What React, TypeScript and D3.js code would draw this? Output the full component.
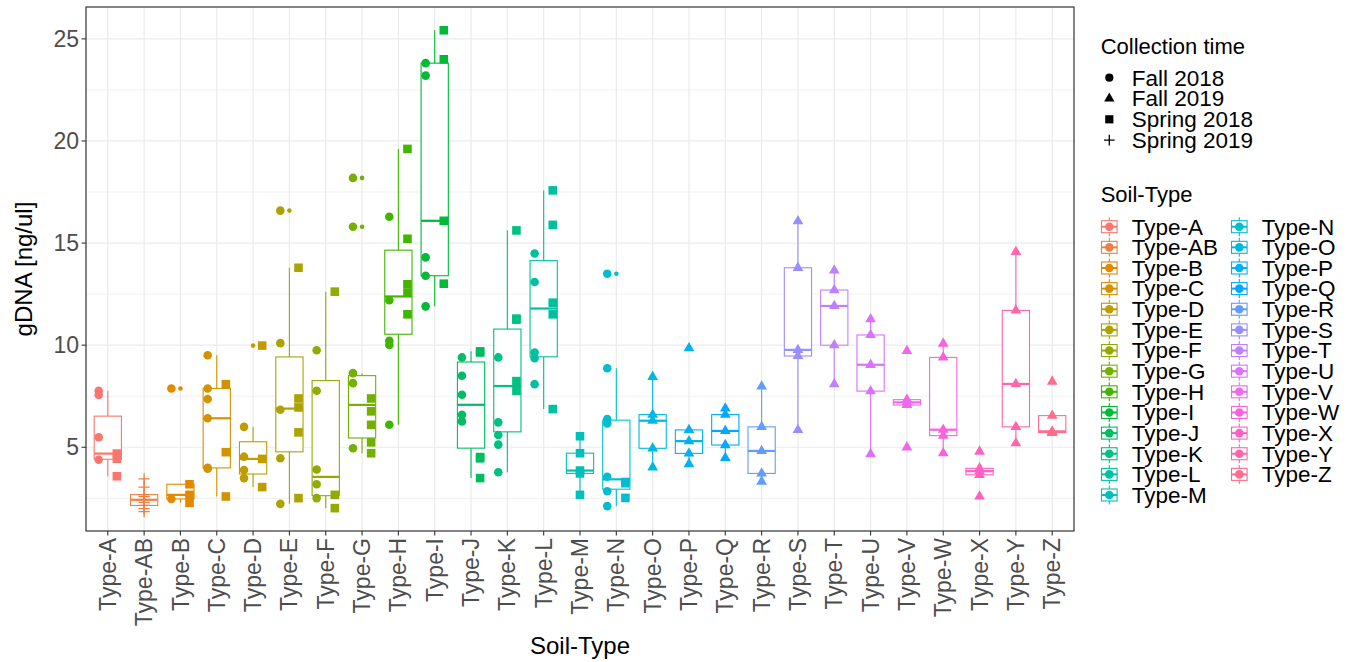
import React from "react";
import * as d3 from "d3";

// soil types in plotting order
const categories = [
  "Type-A", "Type-AB", "Type-B", "Type-C", "Type-D", "Type-E", "Type-F", "Type-G", "Type-H",
  "Type-I", "Type-J", "Type-K", "Type-L", "Type-M", "Type-N", "Type-O", "Type-P", "Type-Q",
  "Type-R", "Type-S", "Type-T", "Type-U", "Type-V", "Type-W", "Type-X", "Type-Y", "Type-Z",
];

// gDNA values per collection time, one list per soil type (same order as categories)
const fall2018: number[][] = [
  [7.77, 7.56, 5.49, 4.39], [], [7.88, 2.47], [9.51, 7.88, 7.36, 6.42, 3.99, 3.95],
  [6.0, 4.54, 3.89, 3.49], [16.59, 10.1, 6.84, 4.46, 2.23], [9.75, 7.77, 3.91, 3.19, 2.51],
  [18.19, 15.8, 8.63, 8.14, 4.95], [16.29, 12.2, 10.21, 10.01, 6.1], [23.81, 23.2, 14.3, 13.4, 11.9],
  [9.4, 8.5, 7.57, 6.59, 6.27], [9.4, 6.22, 5.6, 5.13, 3.78], [14.49, 13.09, 9.64, 9.36, 8.09],
  [], [13.5, 8.87, 6.38, 6.17, 3.56, 2.85, 2.12], [], [], [], [], [], [], [], [], [], [], [], [],
];
const fall2019: number[][] = [
  [], [], [], [], [], [], [], [], [], [], [], [], [], [], [],
  [8.45, 6.6, 6.3, 4.95, 4.02], [9.85, 5.85, 5.3, 4.7, 4.18], [6.9, 6.6, 5.8, 5.11, 4.48],
  [7.98, 6.0, 4.82, 3.72, 3.32], [16.07, 13.79, 9.77, 9.47, 5.85], [13.66, 12.7, 11.92, 10.0, 8.09],
  [11.27, 10.5, 9.04, 7.75, 4.67], [9.72, 7.33, 7.2, 7.07, 5.0], [10.08, 9.4, 5.86, 5.57, 4.71],
  [4.79, 3.97, 3.83, 3.65, 2.59], [14.57, 11.7, 8.1, 6.0, 5.2], [8.22, 6.55, 5.78, 5.72, 5.7],
];
const spring2018: number[][] = [
  [4.69, 4.44, 3.58], [], [3.19, 2.67, 2.28], [8.09, 4.76, 2.59], [9.98, 4.43, 3.05],
  [13.79, 7.39, 6.95, 5.73, 2.51], [12.62, 2.67, 2.02], [7.39, 6.76, 6.1, 5.24, 4.71],
  [19.61, 15.21, 12.98, 12.57, 11.51], [25.42, 24.0, 16.09, 13.01], [9.7, 9.64, 4.52, 4.46, 3.49],
  [15.62, 11.3, 11.25, 8.24, 7.76], [17.58, 15.89, 12.08, 11.51, 6.87], [5.54, 4.71, 3.86, 3.72, 2.67],
  [3.3, 3.24, 2.52], [], [], [], [], [], [], [], [], [], [], [], [],
];
const spring2019: number[][] = [
  [], [3.45, 3.05, 2.68, 2.58, 2.43, 2.3, 2.15, 2.0, 1.85], [], [], [], [], [], [], [], [], [], [], [],
  [], [], [], [], [], [], [], [], [], [], [], [], [], [],
];

const timeLabels = ["Fall 2018", "Fall 2019", "Spring 2018", "Spring 2019"];
const yTicks = [5, 10, 15, 20, 25];
const yMinor = [2.5, 7.5, 12.5, 17.5, 22.5];

const W = 1356, H = 662;
const margin = { top: 7, right: 282, bottom: 130, left: 86 };
const FONT = "'Liberation Sans', Arial, Helvetica, sans-serif";

// R's hcl() (polar LUV) -> hex, as used by ggplot's hue palette
function hcl(h: number, c: number, l: number) {
  const WX = 95.047, WY = 100.0, WZ = 108.883;
  const hr = (h * Math.PI) / 180;
  const U = c * Math.cos(hr), V = c * Math.sin(hr);
  const Y = WY * (l > 7.999592 ? Math.pow((l + 16) / 116, 3) : l / 903.3);
  const den = WX + 15 * WY + 3 * WZ;
  const u = U / (13 * l) + (4 * WX) / den;
  const v = V / (13 * l) + (9 * WY) / den;
  const X = (9 * Y * u) / (4 * v);
  const Z = -X / 3 - 5 * Y + (3 * Y) / v;
  const g = (x: number) => (x > 0.00304 ? 1.055 * Math.pow(x, 1 / 2.4) - 0.055 : 12.92 * x);
  const cl = (x: number) => Math.round(255 * Math.max(0, Math.min(1, x)));
  const r = g((3.240479 * X - 1.53715 * Y - 0.498535 * Z) / WY);
  const gg = g((-0.969256 * X + 1.875992 * Y + 0.041556 * Z) / WY);
  const b = g((0.055648 * X - 0.204043 * Y + 1.057311 * Z) / WY);
  return d3.rgb(cl(r), cl(gg), cl(b)).formatHex();
}

const colors = categories.map((_, i) => hcl(15 + (i * 360) / categories.length, 100, 65));

function boxStats(vals: number[]) {
  const s = vals.slice().sort(d3.ascending);
  const q1 = d3.quantileSorted(s, 0.25)!, med = d3.quantileSorted(s, 0.5)!, q3 = d3.quantileSorted(s, 0.75)!;
  const iqr = q3 - q1;
  const lo = q1 - 1.5 * iqr, hi = q3 + 1.5 * iqr;
  const inside = s.filter((v) => v >= lo && v <= hi);
  return { q1, med, q3, wlo: d3.min(inside)!, whi: d3.max(inside)!, out: s.filter((v) => v < lo || v > hi) };
}

function Marker({ shape, x, y, fill, k = 1 }: { shape: number; x: number; y: number; fill: string; k?: number }) {
  if (shape === 0) return <circle cx={x} cy={y} r={4.3 * k} fill={fill} />;
  if (shape === 1) {
    const R = 4.0 * k;
    return <path d={`M${x},${y - 1.555 * R}L${x + 1.347 * R},${y + 0.778 * R}L${x - 1.347 * R},${y + 0.778 * R}Z`} fill={fill} />;
  }
  if (shape === 2) return <rect x={x - 4.3 * k} y={y - 4.3 * k} width={8.6 * k} height={8.6 * k} fill={fill} />;
  const a = 5.6 * k;
  return <path d={`M${x - a},${y}H${x + a}M${x},${y - a}V${y + a}`} stroke={fill} strokeWidth={1.3} fill="none" />;
}

export default function App() {
  const x = d3.scalePoint<string>().domain(categories).range([margin.left, W - margin.right]).padding(0.6);
  const y = d3.scaleLinear().domain([0.9, 26.56]).range([H - margin.bottom - 1, margin.top]);
  const step = x.step();
  const boxW = step * 0.75;
  const pTop = margin.top, pBot = H - margin.bottom - 1, pL = margin.left, pR = W - margin.right;

  const series = [fall2018, fall2019, spring2018, spring2019];

  const groups = categories.map((cat, i) => {
    const present = series.map((s, k) => ({ k, vals: s[i] })).filter((d) => d.vals.length > 0);
    const all = present.flatMap((d) => d.vals);
    const stats = boxStats(all);
    const cx = x(cat)!;
    const pts = present.flatMap((d, j) => {
      const off = present.length > 1 ? (j === 0 ? -0.25 : 0.25) * step : 0;
      return d.vals.map((v) => ({ x: cx + off, y: y(v), shape: d.k }));
    });
    return { cat, cx, stats, pts, color: colors[i] };
  });

  const leg1X = 1100.7;
  const soilRows = 14;

  return (
    <svg width={W} height={H} style={{ position: "absolute", left: 0, top: 0, background: "#fff" }} fontFamily={FONT}>
      <rect x={0} y={0} width={W} height={H} fill="#fff" />
      {/* grid */}
      {yMinor.map((t) => (
        <line key={"m" + t} x1={pL} x2={pR} y1={y(t)} y2={y(t)} stroke="#EBEBEB" strokeWidth={0.7} />
      ))}
      {yTicks.map((t) => (
        <line key={"g" + t} x1={pL} x2={pR} y1={y(t)} y2={y(t)} stroke="#EBEBEB" strokeWidth={1.2} />
      ))}
      {categories.map((c) => (
        <line key={"v" + c} x1={x(c)} x2={x(c)} y1={pTop} y2={pBot} stroke="#EBEBEB" strokeWidth={1.2} />
      ))}

      {/* boxplots */}
      {groups.map((g) => {
        const s = g.stats;
        return (
          <g key={"b" + g.cat} stroke={g.color} fill="none">
            <line x1={g.cx} x2={g.cx} y1={y(s.whi)} y2={y(s.q3)} strokeWidth={1.1} />
            <line x1={g.cx} x2={g.cx} y1={y(s.q1)} y2={y(s.wlo)} strokeWidth={1.1} />
            <rect x={g.cx - boxW / 2} y={y(s.q3)} width={boxW} height={y(s.q1) - y(s.q3)} fill="#fff" strokeWidth={1.1} />
            <line x1={g.cx - boxW / 2} x2={g.cx + boxW / 2} y1={y(s.med)} y2={y(s.med)} strokeWidth={2.2} />
            {s.out.map((v, j) => (
              <circle key={j} cx={g.cx} cy={y(v)} r={2.3} fill={g.color} stroke="none" />
            ))}
          </g>
        );
      })}

      {/* points */}
      {groups.map((g) => (
        <g key={"p" + g.cat}>
          {g.pts.map((p, j) => (
            <Marker key={j} shape={p.shape} x={p.x} y={p.y} fill={g.color} />
          ))}
        </g>
      ))}

      <rect x={pL} y={pTop} width={pR - pL} height={pBot - pTop} fill="none" stroke="#333" strokeWidth={1.2} />

      {/* y axis */}
      {yTicks.map((t) => (
        <g key={"yt" + t}>
          <line x1={pL - 4.4} x2={pL} y1={y(t)} y2={y(t)} stroke="#333" strokeWidth={1.1} />
          <text x={pL - 7} y={y(t)} dy="0.35em" textAnchor="end" fontSize={23} fill="#4D4D4D">
            {t}
          </text>
        </g>
      ))}
      <text transform={`translate(24,${(pTop + pBot) / 2}) rotate(-90)`} textAnchor="middle" dy="0.35em" fontSize={24} fill="#000">
        gDNA [ng/ul]
      </text>

      {/* x axis */}
      {categories.map((c) => (
        <g key={"xt" + c}>
          <line x1={x(c)} x2={x(c)} y1={pBot} y2={pBot + 4.4} stroke="#333" strokeWidth={1.1} />
          <text transform={`translate(${x(c)},${pBot + 7}) rotate(-90)`} textAnchor="end" dy="0.35em" fontSize={23} fill="#4D4D4D">
            {c}
          </text>
        </g>
      ))}
      <text x={(pL + pR) / 2} y={646} dy="0.35em" textAnchor="middle" fontSize={24} fill="#000">
        Soil-Type
      </text>

      {/* legend: collection time */}
      <text x={leg1X} y={46.7} dy="0.35em" fontSize={22} fill="#000">
        Collection time
      </text>
      {timeLabels.map((t, i) => {
        const cy = 77.7 + i * 20.8;
        return (
          <g key={"lt" + t}>
            <Marker shape={i} x={1109.3} y={cy} fill="#000" k={0.95} />
            <text x={1131.7} y={cy} dy="0.35em" fontSize={22.5} fill="#000">
              {t}
            </text>
          </g>
        );
      })}

      {/* legend: soil type */}
      <text x={leg1X} y={194} dy="0.35em" fontSize={22} fill="#000">
        Soil-Type
      </text>
      {categories.map((c, i) => {
        const col = i < soilRows ? 0 : 1;
        const row = col === 0 ? i : i - soilRows;
        const kx = col === 0 ? 1109.3 : 1239.3;
        const ky = 226.7 + row * 20.64;
        return (
          <g key={"ls" + c}>
            <g stroke={colors[i]} fill="none" strokeWidth={1.1}>
              <line x1={kx} x2={kx} y1={ky - 9.5} y2={ky + 9.5} />
              <rect x={kx - 7.8} y={ky - 6} width={15.6} height={12} fill="#fff" />
              <line x1={kx - 7.8} x2={kx + 7.8} y1={ky} y2={ky} strokeWidth={2} />
            </g>
            <circle cx={kx} cy={ky} r={4.3} fill={colors[i]} />
            <text x={kx + 22.4} y={ky} dy="0.35em" fontSize={22.5} fill="#000">
              {c}
            </text>
          </g>
        );
      })}
    </svg>
  );
}
